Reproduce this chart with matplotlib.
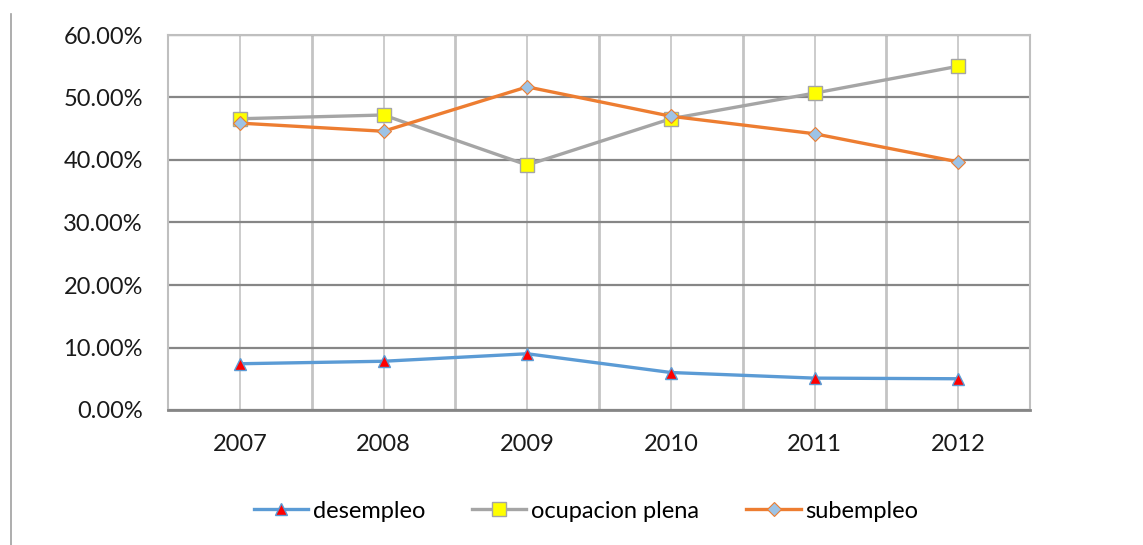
import matplotlib.pyplot as plt
from matplotlib.ticker import FuncFormatter, MultipleLocator
from matplotlib.lines import Line2D

years = ["2007", "2008", "2009", "2010", "2011", "2012"]
desempleo = [0.074, 0.078, 0.090, 0.060, 0.051, 0.050]
ocupacion_plena = [0.466, 0.472, 0.392, 0.466, 0.507, 0.550]
subempleo = [0.459, 0.446, 0.517, 0.470, 0.442, 0.397]

plt.rcParams["font.family"] = ["Lato", "DejaVu Sans"]

fig = plt.figure(figsize=(11.43, 5.45), dpi=100)
ax = fig.add_axes([168 / 1143, 1 - 410 / 545, (1030 - 168) / 1143, (410 - 35) / 545])

x = list(range(len(years)))
ax.plot(x, desempleo, color="#5b9bd5", lw=2.4, marker="^", ms=9,
        mfc="#ff0000", mec="#5b9bd5", mew=1, label="desempleo", zorder=3)
ax.plot(x, ocupacion_plena, color="#a5a5a5", lw=2.4, marker="s", ms=10,
        mfc="#ffff00", mec="#a5a5a5", mew=1, label="ocupacion plena", zorder=4)
ax.plot(x, subempleo, color="#ed7d31", lw=2.4, marker="D", ms=7,
        mfc="#9dc3e6", mec="#ed7d31", mew=0.8, label="subempleo", zorder=5)

ax.set_xlim(-0.5, len(years) - 0.5)
ax.set_ylim(0, 0.6)
ax.yaxis.set_major_locator(MultipleLocator(0.1))
ax.yaxis.set_major_formatter(FuncFormatter(lambda v, p: f"{v * 100:.2f}%"))
ax.set_xticks(x)
ax.set_xticklabels(years)
ax.tick_params(axis="both", length=0, labelsize=17, colors="#1a1a1a")
ax.tick_params(axis="x", pad=17)
ax.tick_params(axis="y", pad=18)

ax.grid(axis="y", color="#868686", lw=1.6, zorder=0)
for xi in x:
    ax.axvline(xi, color="#c4c4c4", lw=1.2, zorder=1)
for xb in [i + 0.5 for i in x[:-1]]:
    ax.axvline(xb, color="#c4c4c4", lw=2.0, zorder=1)

for name, sp in ax.spines.items():
    sp.set_color("#bfbfbf")
    sp.set_linewidth(1.5)
ax.spines["bottom"].set_color("#868686")
ax.spines["bottom"].set_linewidth(2)

handles, labels = ax.get_legend_handles_labels()
fig.legend(handles, labels, loc="center", bbox_to_anchor=(586 / 1143, 1 - 511 / 545),
           ncol=3, frameon=False, fontsize=17, handlelength=2.3,
           columnspacing=2.0, handletextpad=0.2)

fig.add_artist(Line2D([11 / 1143, 11 / 1143], [0, 1 - 14 / 545],
                      color="#a0a0a0", lw=1.2))

fig.savefig("out.png", dpi=100)
